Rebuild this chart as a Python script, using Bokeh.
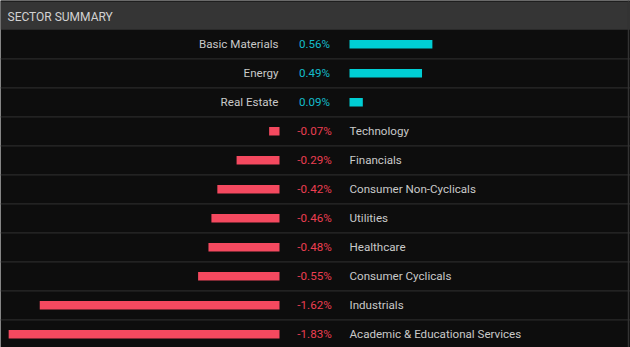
from bokeh.plotting import figure
from bokeh.models import ColumnDataSource, Range1d
from bokeh.core.properties import value
from bokeh.embed import file_html
from bokeh.resources import INLINE

# ---- data ----
title = "SECTOR SUMMARY"
sectors = ["Basic Materials", "Energy", "Real Estate", "Technology", "Financials",
           "Consumer Non-Cyclicals", "Utilities", "Healthcare", "Consumer Cyclicals",
           "Industrials", "Academic & Educational Services"]
changes = [0.56, 0.49, 0.09, -0.07, -0.29, -0.42, -0.46, -0.48, -0.55, -1.62, -1.83]

# ---- layout constants (pixels) ----
W, H = 630, 347
PX_PER_PCT = 148.0
NEG_ZERO_PX = 279.0
POS_ZERO_PX = 349.0
HEADER_PX = 29.3
ROW_PX = 29.0

X0 = -NEG_ZERO_PX / PX_PER_PCT
X1 = (W - NEG_ZERO_PX) / PX_PER_PCT
POS0 = (POS_ZERO_PX - NEG_ZERO_PX) / PX_PER_PCT
VAL_X = (314 - NEG_ZERO_PX) / PX_PER_PCT
Y_TOP = -HEADER_PX / ROW_PX
Y_BOT = (H - HEADER_PX) / ROW_PX

BG = "#0d0d0d"
HEADER_BG = "#353535"
SEP = "#2a2a2a"
CYAN = "#00ced4"
RED = "#f4495f"
CYAN_TXT = "#14bccb"
RED_TXT = "#ec3f52"
NAME_TXT = "#c9c9c9"
FONT = value("Roboto")
FS = "11.6px"

rows = list(range(len(sectors)))
yc = [r + 0.5 for r in rows]

pos = [i for i, v in enumerate(changes) if v >= 0]
neg = [i for i, v in enumerate(changes) if v < 0]

pos_src = ColumnDataSource(dict(
    y=[yc[i] for i in pos],
    left=[POS0 for i in pos],
    right=[POS0 + changes[i] for i in pos],
    name=[sectors[i] for i in pos],
    val=[f"{changes[i]:.2f}%" for i in pos],
))
neg_src = ColumnDataSource(dict(
    y=[yc[i] for i in neg],
    left=[changes[i] for i in neg],
    right=[0.0 for i in neg],
    name=[sectors[i] for i in neg],
    val=[f"{changes[i]:.2f}%" for i in neg],
))

p = figure(width=W, height=H, x_range=Range1d(X0, X1), y_range=Range1d(Y_BOT, Y_TOP),
           output_backend="svg", toolbar_location=None, min_border=0,
           x_axis_type=None, y_axis_type=None,
           background_fill_color=BG, border_fill_color=BG, outline_line_color=None)
p.grid.visible = False

# header band
p.quad(left=X0, right=X1, top=Y_TOP + 1.0 / ROW_PX, bottom=0, fill_color=HEADER_BG, line_color=None)
p.quad(left=X0, right=X1, top=Y_TOP, bottom=Y_TOP + 1.0 / ROW_PX, fill_color="#1e1e1e", line_color=None)
p.text(x=[X0 + 7 / PX_PER_PCT], y=[Y_TOP + 16 / ROW_PX], text=[title], text_font=FONT,
       text_font_size="12px", text_color="#d2d2d2", text_baseline="middle", text_align="left")

# row separators
p.segment(x0=X0, x1=X1, y0=[r + 1 for r in rows[:-1]], y1=[r + 1 for r in rows[:-1]],
          line_color=SEP, line_width=1.2)

# right border
xb = (628 - NEG_ZERO_PX) / PX_PER_PCT
p.segment(x0=[xb], x1=[xb], y0=[Y_TOP], y1=[Y_BOT], line_color="#333333", line_width=1.5)

# bars
BAR_H = 8.5 / ROW_PX
p.hbar(y="y", left="left", right="right", height=BAR_H, source=pos_src, fill_color=CYAN, line_color=None)
p.hbar(y="y", left="left", right="right", height=BAR_H, source=neg_src, fill_color=RED, line_color=None)

# texts
p.text(x=-1.0 / PX_PER_PCT, y="y", text="name", source=pos_src, text_font=FONT, text_font_size=FS,
       text_color=NAME_TXT, text_align="right", text_baseline="middle")
p.text(x=VAL_X, y="y", text="val", source=pos_src, text_font=FONT, text_font_size=FS,
       text_color=CYAN_TXT, text_align="center", text_baseline="middle")
p.text(x=POS0, y="y", text="name", source=neg_src, text_font=FONT, text_font_size=FS,
       text_color=NAME_TXT, text_align="left", text_baseline="middle")
p.text(x=VAL_X, y="y", text="val", source=neg_src, text_font=FONT, text_font_size=FS,
       text_color=RED_TXT, text_align="center", text_baseline="middle")

open("out.html", "w").write(file_html(p, INLINE))
